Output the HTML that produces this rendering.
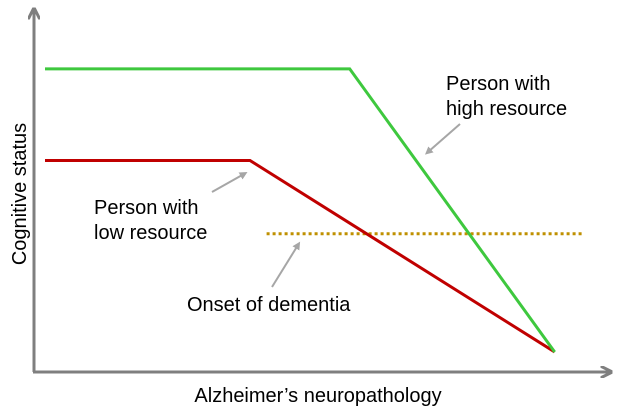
<!DOCTYPE html>
<html><head><meta charset="utf-8"><style>
html,body{margin:0;padding:0;background:#fff;}
svg{display:block;font-family:"Liberation Sans",Arial,sans-serif;}
</style></head><body>
<svg id="chart" width="628" height="408" viewBox="0 0 628 408">
<defs>
<marker id="ah" viewBox="0 0 10 10" refX="5" refY="5" markerWidth="4" markerHeight="4" orient="auto"><path d="M0,0 L10,5 L0,10 z" fill="#a6a6a6"/></marker>
<marker id="axh" viewBox="0 0 10 10" refX="8" refY="5" markerWidth="4" markerHeight="4" orient="auto"><path d="M0,0 L10,5 L0,10" fill="none" stroke="#7f7f7f" stroke-width="2.5"/></marker>
</defs>
<line x1="34" y1="372" x2="34" y2="10" stroke="#7f7f7f" stroke-width="3" marker-end="url(#axh)"/>
<line x1="33" y1="372" x2="610" y2="372" stroke="#7f7f7f" stroke-width="3" marker-end="url(#axh)"/>
<text x="0" y="0" transform="translate(26,194) rotate(-90)" text-anchor="middle" font-size="20" fill="#000">Cognitive status</text>
<text x="318" y="402" text-anchor="middle" font-size="20" fill="#000">Alzheimer’s neuropathology</text>
<g id="marks"></g>
<line x1="460" y1="124" x2="428" y2="152" stroke="#a6a6a6" stroke-width="2" marker-end="url(#ah)"/>
<line x1="212" y1="192" x2="244" y2="174" stroke="#a6a6a6" stroke-width="2" marker-end="url(#ah)"/>
<line x1="272" y1="287" x2="298" y2="245" stroke="#a6a6a6" stroke-width="2" marker-end="url(#ah)"/>
<text font-size="20" fill="#000"><tspan x="446" y="90">Person with</tspan><tspan x="446" y="115">high resource</tspan></text>
<text font-size="20" fill="#000"><tspan x="94" y="214">Person with</tspan><tspan x="94" y="239">low resource</tspan></text>
<text x="187" y="311" font-size="20" fill="#000">Onset of dementia</text>
</svg>
<script>
// data space: x 0..100 (pathology), y 0..100 (cognition)
const pathologyHigh = [0, 55, 92];
const cognitionHigh = [90, 90, 5];
const pathologyLow = [0, 37, 92];
const cognitionLow = [62.5, 62.5, 5];
const onsetPathology = [40, 97];
const onsetCognition = [40.5, 40.5];
const X0 = 45, X1 = 599, Y0 = 368.6, Y1 = 35.6;
function sx(v){ return X0 + (X1 - X0) * v / 100; }
function sy(v){ return Y0 - (Y0 - Y1) * v / 100; }
const ns = 'http://www.w3.org/2000/svg';
const g = document.getElementById('marks');
function poly(xs, ys, color, dash, name){
  const p = document.createElementNS(ns, 'polyline');
  p.setAttribute('points', xs.map((x,i)=>sx(x)+','+sy(ys[i])).join(' '));
  p.setAttribute('fill','none');
  p.setAttribute('stroke',color);
  p.setAttribute('stroke-width', 3);
  if (dash) p.setAttribute('stroke-dasharray', dash);
  
  
  g.appendChild(p);
}
poly(onsetPathology, onsetCognition, '#bf9000', '3 3', 'onset-of-dementia-line');
poly(pathologyLow, cognitionLow, '#c00000', null, 'low-resource-line');
poly(pathologyHigh, cognitionHigh, '#3ec83e', null, 'high-resource-line');
</script>
</body></html>
